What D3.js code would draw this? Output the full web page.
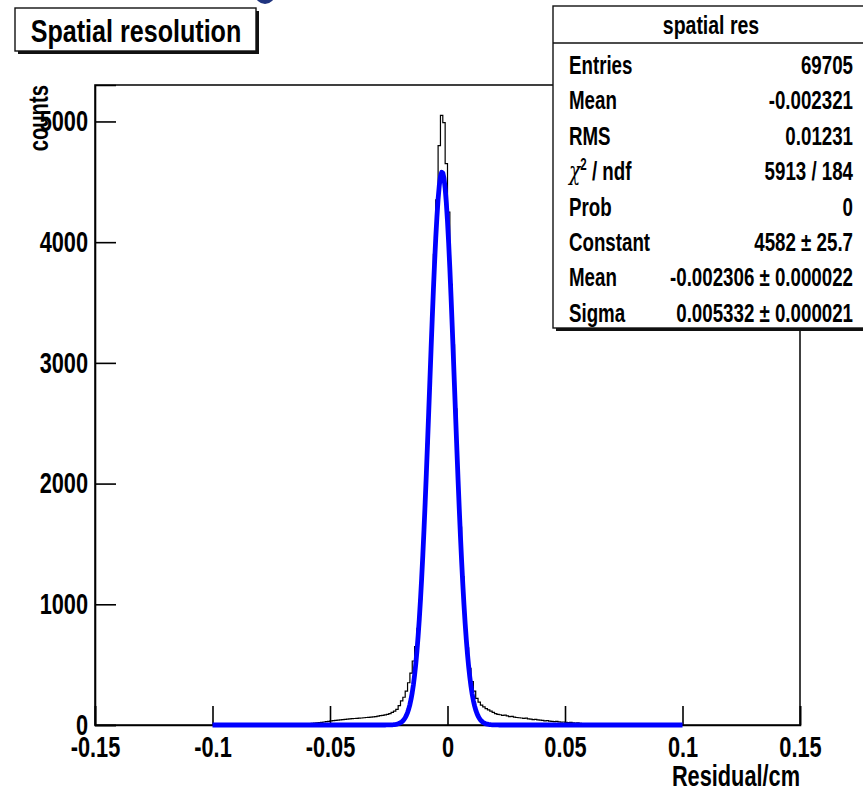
<!DOCTYPE html>
<html>
<head>
<meta charset="utf-8">
<script src="https://cdn.jsdelivr.net/npm/d3@7"></script>
<style>
  body { margin: 0; background: #fff; }
  svg { display: block; }
</style>
</head>
<body>
<div id="chart"></div>
<script>
// histogram: residual counts, bins of 0.001 cm starting at -0.06
var binLo = -0.06, binW = 0.001;
var counts = [
  10, 12, 14, 16, 18, 20, 22, 25, 28, 30,          // -0.060 .. -0.050
  34, 36, 38, 40, 42, 44, 46, 48, 50, 52,          // -0.050 .. -0.040
  54, 55, 57, 58, 60, 62, 63, 65, 68, 70,          // -0.040 .. -0.030
  74, 78, 80, 84, 88, 95, 105, 115, 130, 160,      // -0.030 .. -0.020
  200, 230, 280, 350, 430, 530, 650, 800, 1040, 1400,      // -0.020 .. -0.010
  1840, 2330, 2850, 3360, 3900, 4350, 4800, 5050, 4990, 4650, // -0.010 .. 0
  4250, 3650, 3150, 2620, 2100, 1640, 1230, 900, 640, 470,    // 0 .. 0.010
  360, 280, 220, 190, 165, 150, 135, 125, 115, 105,        // 0.010 .. 0.020
  95, 88, 85, 80, 82, 75, 70, 72, 65, 62,          // 0.020 .. 0.030
  60, 58, 55, 57, 50, 48, 45, 47, 42, 40,          // 0.030 .. 0.040
  38, 35, 36, 32, 30, 28, 30, 26, 24, 25,          // 0.040 .. 0.050
  22, 20, 21, 18, 16, 17, 14, 12, 10, 8            // 0.050 .. 0.060
];

// gaus fit result (from the stats box), fitted on [-0.1, 0.1]
var fitConst = 4582, fitMean = -0.002306, fitSigma = 0.005332;
var fitRange = [-0.1, 0.1];

var xTicks = [-0.15, -0.1, -0.05, 0, 0.05, 0.1, 0.15];
var xTickLabels = ["-0.15", "-0.1", "-0.05", "0", "0.05", "0.1", "0.15"];
var yTicks = [0, 1000, 2000, 3000, 4000, 5000];

var statNames = ["Entries", "Mean", "RMS", "chi2", "Prob", "Constant", "Mean", "Sigma"];
var statValues = ["69705", "-0.002321", "0.01231", "5913 / 184", "0",
                  "4582 \u00b1 25.7", "-0.002306 \u00b1 0.000022", "0.005332 \u00b1 0.000021"];

var W = 863, H = 794;
var FONT = "'Liberation Sans', Arial, Helvetica, sans-serif";
var SX = 0.75;

var svg = d3.select("#chart").append("svg")
    .attr("width", W)
    .attr("height", H);

var x = d3.scaleLinear().domain([-0.15, 0.15]).range([95, 800]);
var y = d3.scaleLinear().domain([0, 5302]).range([725, 85]);

function txt(g, px, py, s, size, anchor, sx) {
  return g.append("text")
    .attr("transform", "translate(" + px + "," + py + ") scale(" + sx + ",1)")
    .attr("text-anchor", anchor)
    .style("font-family", FONT)
    .style("font-weight", "bold")
    .style("font-size", size + "px")
    .text(s);
}

// frame
svg.append("rect")
  .attr("x", x(-0.15)).attr("y", y(5302))
  .attr("width", x(0.15) - x(-0.15)).attr("height", y(0) - y(5302))
  .attr("fill", "none").attr("stroke", "#111").attr("stroke-width", 1.6);

// histogram
var pts = counts.map((c, i) => ({ x: binLo + i * binW, c: c }));
pts.unshift({ x: binLo, c: 0 });
pts.push({ x: binLo + counts.length * binW, c: 0 });

var histLine = d3.line()
  .x(d => x(d.x))
  .y(d => y(d.c))
  .curve(d3.curveStepAfter);

svg.append("path")
  .attr("d", histLine(pts))
  .attr("fill", "none")
  .attr("stroke", "#000")
  .attr("stroke-width", 1.2);

// axes (ticks pointing into the frame)
var gx = svg.append("g").attr("transform", "translate(0," + y(0) + ")");
gx.call(d3.axisBottom(x).tickValues(d3.range(-15, 16).map(d => d / 100)).tickSize(-10).tickFormat(""));
gx.call(d3.axisBottom(x).tickValues(xTicks).tickSize(-19).tickPadding(11)
  .tickFormat((d, i) => xTickLabels[i]));
gx.selectAll(".domain").attr("stroke-width", 1.6);
gx.selectAll("line").attr("stroke-width", 1.6);
gx.selectAll("text")
  .attr("transform", "scale(" + SX + ",1)")
  .style("font-family", FONT).style("font-weight", "bold").style("font-size", "29px")
  .attr("fill", "#000");

var gy = svg.append("g").attr("transform", "translate(" + x(-0.15) + ",0)");
gy.call(d3.axisLeft(y).tickValues(d3.range(0, 5400, 200)).tickSize(-10).tickFormat(""));
gy.call(d3.axisLeft(y).tickValues(yTicks).tickSize(-21).tickPadding(7).tickFormat(d3.format("d")));
gy.selectAll(".domain").attr("stroke-width", 1.6);
gy.selectAll("line").attr("stroke-width", 1.6);
gy.selectAll("text")
  .attr("transform", "scale(" + SX + ",1)")
  .style("font-family", FONT).style("font-weight", "bold").style("font-size", "29px")
  .attr("fill", "#000");
// axisLeft puts text at x=-padding, correct for the scale
gy.selectAll("text").attr("x", -7 / SX);

// fit curve
var fx = d3.range(0, 401).map(i => fitRange[0] + i * (fitRange[1] - fitRange[0]) / 400);
var fitLine = d3.line()
  .x(d => x(d))
  .y(d => y(fitConst * Math.exp(-0.5 * Math.pow((d - fitMean) / fitSigma, 2))));

svg.append("path")
  .attr("d", fitLine(fx))
  .attr("fill", "none")
  .attr("stroke", "#0000ff")
  .attr("stroke-width", 4.8)
  .attr("stroke-linejoin", "round");

// axis titles
txt(svg, 800, 786, "Residual/cm", 29, "end", SX);
svg.append("text")
  .attr("transform", "translate(48,85) rotate(-90) scale(" + SX + ",1)")
  .attr("text-anchor", "end")
  .style("font-family", FONT).style("font-weight", "bold").style("font-size", "27px")
  .text("counts");

// title box with shadow
svg.append("rect").attr("x", 18).attr("y", 11).attr("width", 241).attr("height", 43).attr("fill", "#111");
svg.append("rect").attr("x", 15).attr("y", 8).attr("width", 241).attr("height", 43)
  .attr("fill", "#fff").attr("stroke", "#111").attr("stroke-width", 1.4);
txt(svg, 136, 42, "Spatial resolution", 31, "middle", 0.81);

// slide decoration at top edge
svg.append("circle").attr("cx", 265).attr("cy", -6).attr("r", 10).attr("fill", "#1f347f");

// stats box
var sb = svg.append("g");
sb.append("rect").attr("x", 556).attr("y", 9).attr("width", 320).attr("height", 322).attr("fill", "#111");
sb.append("rect").attr("x", 553).attr("y", 6).attr("width", 320).attr("height", 322)
  .attr("fill", "#fff").attr("stroke", "#111").attr("stroke-width", 1.4);
sb.append("line").attr("x1", 553).attr("x2", 873).attr("y1", 43).attr("y2", 43)
  .attr("stroke", "#111").attr("stroke-width", 1.4);
txt(sb, 711, 34, "spatial res", 26, "middle", 0.75);

statNames.forEach((n, i) => {
  var by = 74 + i * 35.4;
  if (n === "chi2") {
    var t = sb.append("text")
      .attr("transform", "translate(569," + by + ") scale(0.72,1)")
      .style("font-family", FONT).style("font-weight", "bold").style("font-size", "26px");
    t.append("tspan").style("font-weight", "normal").style("font-family", "'DejaVu Serif', serif").style("font-style", "italic").text("\u03c7");
    t.append("tspan").attr("dy", -10).style("font-size", "16px").text("2");
    t.append("tspan").attr("dy", 10).text(" / ndf");
  } else {
    txt(sb, 569, by, n, 26, "start", 0.72);
  }
  txt(sb, 853, by, statValues[i], 26, "end", 0.72);
});
</script>
</body>
</html>
